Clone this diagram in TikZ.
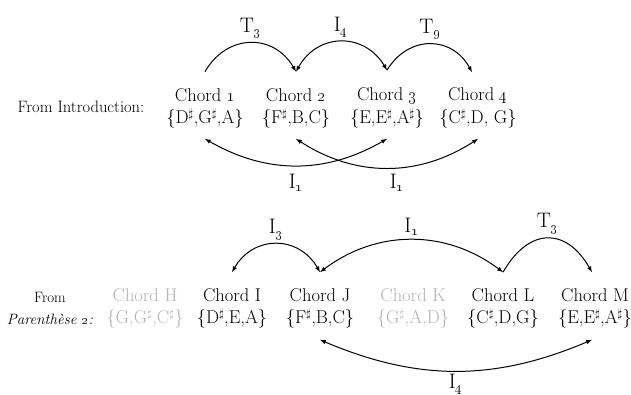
\documentclass[tikz,border=0pt]{standalone}
\usepackage{tikz}
\newcommand\shp{\textsuperscript{$\sharp$}}
\newcommand\osn[1]{\oldstylenums{#1}}
\newcommand\trn[2]{#1\textsubscript{\fontsize{15}{15}\selectfont\oldstylenums{#2}}}

\begin{document}
\begin{tikzpicture}[x=1pt, y=1pt,
        chord/.style={inner sep=1pt, font=\fontsize{18.5}{20}\selectfont},
        ghost/.style={chord, text=black!30},
        from/.style={inner sep=1pt, align=center, font=\fontsize{15}{22}\selectfont},
        op/.style={inner sep=1pt, font=\fontsize{21}{22}\selectfont},
        arc/.style={line width=1pt, -latex},
        both/.style={line width=1pt, latex-latex}]
        \useasboundingbox (0,0) rectangle (631,394);
        \node[from, font=\fontsize{16.5}{22}\selectfont] (intro) at (81, 287) {From Introduction:};
        \node[chord] (c1) at (205, 298.5) {Chord \osn{1}};
        \node[chord] (c2) at (296, 298.5) {Chord \osn{2}};
        \node[chord] (c3) at (387, 298.5) {Chord \osn{3}};
        \node[chord] (c4) at (478, 298.5) {Chord \osn{4}};
        \node[chord] (s1) at (205, 275)   {\{D\shp,G\shp,A\}};
        \node[chord] (s2) at (296, 275)   {\{F\shp,B,C\}};
        \node[chord] (s3) at (387, 275)   {\{E,E\shp,A\shp\}};
        \node[chord] (s4) at (478, 275)   {\{C\shp,D, G\}};
        \draw[arc]  ([yshift=16pt]c1.north) to[bend left=60, looseness=1.25] node[op, midway, above=3pt] (t3) {\trn{T}{3}} ([yshift=16pt]c2.north);
        \draw[both] ([yshift=16pt]c2.north) to[bend left=60, looseness=1.25] node[op, midway, above=3pt] (i4) {\trn{I}{4}} ([yshift=16pt]c3.north);
        \draw[arc]  ([yshift=16pt]c3.north) to[bend left=60, looseness=1.25] node[op, midway, above=3pt] (t9) {\trn{T}{9}} ([xshift=-6pt, yshift=14pt]c4.north);
        \draw[both] ([yshift=-9pt]s1.south) to[bend right=30] node[op, midway, below=7pt] (i1a) {\trn{I}{1}} ([yshift=-9pt]s3.south);
        \draw[both] ([yshift=-9pt]s2.south) to[bend right=33] node[op, midway, below=5pt, xshift=10pt] (i1b) {\trn{I}{1}} ([yshift=-9pt]s4.south);

        \node[from]  (paren) at (50, 86)  {From\\\textit{Parenth\`ese \osn{2}:}};
        \node[ghost] (cH) at (145, 99) {Chord H};
        \node[chord] (cI) at (232, 99) {Chord I};
        \node[chord] (cJ) at (320, 99) {Chord J};
        \node[ghost] (cK) at (413, 99) {Chord K};
        \node[chord] (cL) at (503, 99) {Chord L};
        \node[chord] (cM) at (595, 99) {Chord M};
        \node[ghost] (sH) at (145, 75) {\{G,G\shp,C\shp\}};
        \node[chord] (sI) at (232, 75) {\{D\shp,E,A\}};
        \node[chord] (sJ) at (320, 75) {\{F\shp,B,C\}};
        \node[ghost] (sK) at (413, 75) {\{G\shp,A,D\}};
        \node[chord] (sL) at (503, 75) {\{C\shp,D,G\}};
        \node[chord] (sM) at (595, 75) {\{E,E\shp,A\shp\}};
        \draw[both] ([yshift=15pt]cI.north) to[bend left=60, looseness=1.25] node[op, midway, above=3pt] (i3) {\trn{I}{3}} ([yshift=15pt]cJ.north);
        \draw[both] ([yshift=15pt]cJ.north) to[bend left=37] node[op, midway, above=3pt] (i1c) {\trn{I}{1}} ([yshift=15pt]cL.north);
        \draw[arc]  ([yshift=15pt]cL.north) to[bend left=60, looseness=1.5] node[op, midway, above=3pt] (t3b) {\trn{T}{3}} ([xshift=-3pt, yshift=15pt]cM.north);
        \draw[both] ([yshift=-10pt]sJ.south) to[bend right=23] node[op, midway, below=2pt] (i4b) {\trn{I}{4}} ([xshift=-3pt, yshift=-10pt]sM.south);
    \end{tikzpicture}
\end{document}
